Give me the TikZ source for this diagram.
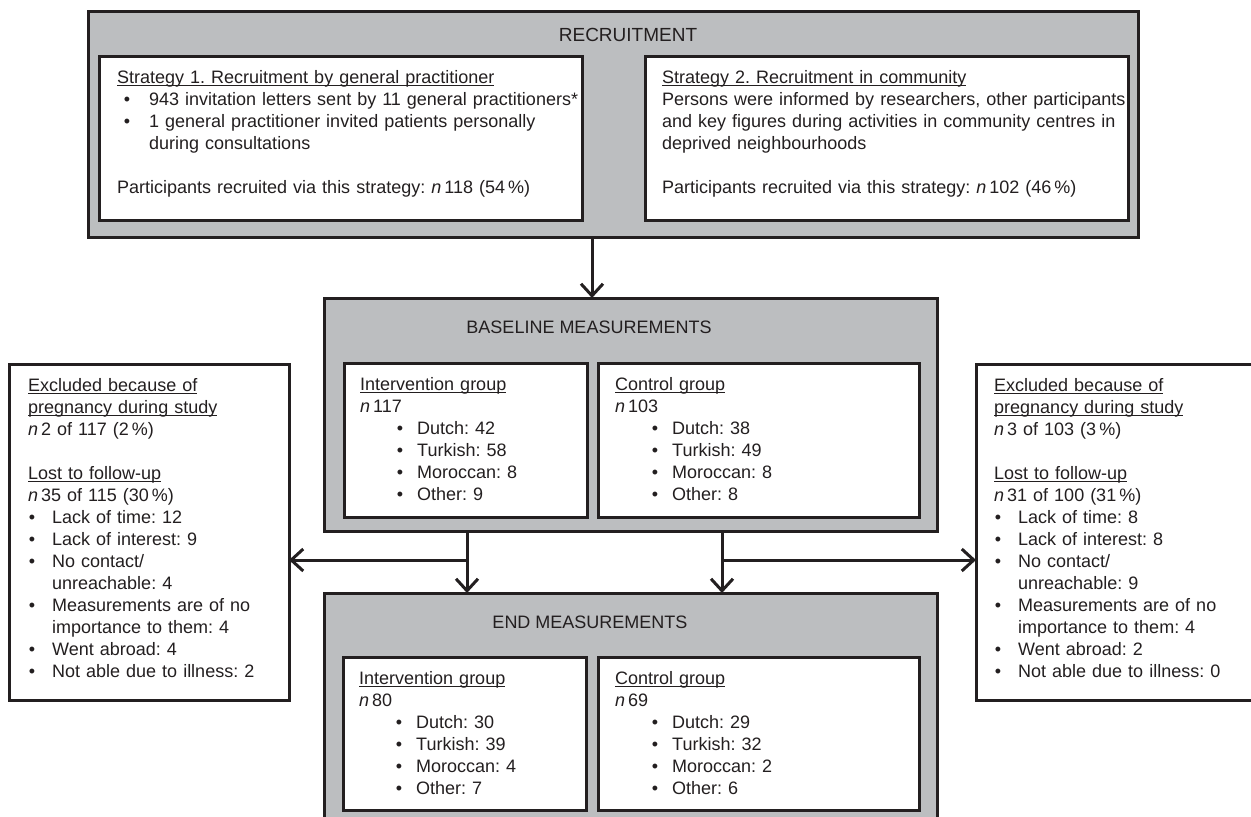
\documentclass[tikz,border=0pt]{standalone}
\usepackage{fontspec}
\setmainfont{Liberation Sans}
\usetikzlibrary{arrows.meta,positioning}
\definecolor{panelgray}{RGB}{188,190,192}
\definecolor{ink}{RGB}{35,31,32}
\setlength{\parindent}{0pt}
\frenchspacing
\newlength\ulwd
\newcommand\ulin[1]{\leavevmode\settowidth{\ulwd}{#1}\rlap{\rule[-3pt]{\ulwd}{1.5pt}}#1}
\newenvironment{blist}[2]{\begin{list}{\textbullet}{%
  \setlength{\leftmargin}{#1}\setlength{\labelsep}{#2}%
  \setlength{\labelwidth}{6.5pt}\setlength{\itemindent}{0pt}%
  \setlength{\itemsep}{0pt}\setlength{\parsep}{0pt}%
  \setlength{\topsep}{0pt}\setlength{\partopsep}{0pt}}}{\end{list}}
\tikzset{>={Straight Barb[length=12pt,width=22pt]}}
\tikzstyle{panel}=[draw=ink, line width=3pt, fill=panelgray,
   anchor=north west, inner sep=0pt, outer sep=0pt]
\tikzstyle{card}=[draw=ink, line width=3pt, fill=white,
   anchor=north west, inner sep=0pt, outer sep=0pt]
\tikzstyle{body}=[anchor=north west, inner sep=0pt, align=left, text=ink]
\tikzstyle{heading}=[anchor=base, inner sep=0pt, text=ink]
\tikzstyle{flow}=[->, draw=ink, line width=3pt]

\begin{document}
\begin{tikzpicture}[x=1pt, y=-1pt, font=\fontsize{18}{22}\selectfont]
  \useasboundingbox (0,0) rectangle (1251,817);
  % recruitment
  \node[panel, minimum width=1050, minimum height=226] (rec) at (88,11) {};
  \node[card, minimum width=483, minimum height=164,
        below right=45pt and 11pt of rec.north west] (strat1) {};
  \node[card, minimum width=483, minimum height=164,
        below right=45pt and 557pt of rec.north west] (strat2) {};
  \node[heading, font=\fontsize{19}{22}\selectfont] (rectitle) at (628,41) {RECRUITMENT};
  \node[body, text width=520] (strat1txt) at ([shift={(18,11.6)}]strat1.north west) {%
    \strut\ulin{Strategy 1. Recruitment by general practitioner}
    \begin{blist}{32pt}{19pt}
      \item 943 invitation letters sent by 11 general practitioners*
      \item 1 general practitioner invited patients personally\newline during consultations
    \end{blist}
    \par\vspace{22pt}
    Participants recruited via this strategy: \textit{n}\,118 (54\,\%)};
  \node[body, text width=520] (strat2txt) at ([shift={(17,11.6)}]strat2.north west) {%
    \strut\ulin{Strategy 2. Recruitment in community}\\
    Persons were informed by researchers, other participants\\
    and key figures during activities in community centres in\\
    deprived neighbourhoods\\[22pt]
    Participants recruited via this strategy: \textit{n}\,102 (46\,\%)};
  % baseline
  \node[panel, minimum width=613, minimum height=233] (base) at (324,298) {};
  \node[card, minimum width=243, minimum height=154,
        below right=65pt and 20pt of base.north west] (baseint) {};
  \node[card, minimum width=321, minimum height=154,
        below right=65pt and 274pt of base.north west] (basectl) {};
  \node[heading] (basetitle) at (589,333) {BASELINE MEASUREMENTS};
  \node[body, text width=300] (baseinttxt) at ([shift={(16,11.6)}]baseint.north west) {%
    \strut\ulin{Intervention group}\\
    \textit{n}\,117
    \begin{blist}{57pt}{14pt}
      \item Dutch: 42
      \item Turkish: 58
      \item Moroccan: 8
      \item Other: 9
    \end{blist}};
  \node[body, text width=300] (basectltxt) at ([shift={(17,11.6)}]basectl.north west) {%
    \strut\ulin{Control group}\\
    \textit{n}\,103
    \begin{blist}{57pt}{14pt}
      \item Dutch: 38
      \item Turkish: 49
      \item Moroccan: 8
      \item Other: 8
    \end{blist}};
  % end
  \node[panel, minimum width=613, minimum height=240] (endm) at (324,593) {};
  \node[card, minimum width=243, minimum height=153,
        below right=64pt and 19pt of endm.north west] (endint) {};
  \node[card, minimum width=321, minimum height=153,
        below right=64pt and 274pt of endm.north west] (endctl) {};
  \node[heading] (endtitle) at (590,628) {END MEASUREMENTS};
  \node[body, text width=300] (endinttxt) at ([shift={(16,11.6)}]endint.north west) {%
    \strut\ulin{Intervention group}\\
    \textit{n}\,80
    \begin{blist}{57pt}{14pt}
      \item Dutch: 30
      \item Turkish: 39
      \item Moroccan: 4
      \item Other: 7
    \end{blist}};
  \node[body, text width=300] (endctltxt) at ([shift={(17,11.6)}]endctl.north west) {%
    \strut\ulin{Control group}\\
    \textit{n}\,69
    \begin{blist}{57pt}{14pt}
      \item Dutch: 29
      \item Turkish: 32
      \item Moroccan: 2
      \item Other: 6
    \end{blist}};
  % drop-outs
  \node[card, minimum width=280, minimum height=336] (exclint) at (9,364) {};
  \node[card, minimum width=280, minimum height=336] (exclctl) at (976,364) {};
  \node[body, text width=300] (exclinttxt) at ([shift={(19,11.6)}]exclint.north west) {%
    \strut\ulin{Excluded because of}\\
    \ulin{pregnancy during study}\\
    \textit{n}\,2 of 117 (2\,\%)\\[22pt]
    \ulin{Lost to follow-up}\\
    \textit{n}\,35 of 115 (30\,\%)
    \begin{blist}{24pt}{17pt}
      \item Lack of time: 12
      \item Lack of interest: 9
      \item No contact/\newline unreachable: 4
      \item Measurements are of no\newline importance to them: 4
      \item Went abroad: 4
      \item Not able due to illness: 2
    \end{blist}};
  \node[body, text width=300] (exclctltxt) at ([shift={(18,11.6)}]exclctl.north west) {%
    \strut\ulin{Excluded because of}\\
    \ulin{pregnancy during study}\\
    \textit{n}\,3 of 103 (3\,\%)\\[22pt]
    \ulin{Lost to follow-up}\\
    \textit{n}\,31 of 100 (31\,\%)
    \begin{blist}{24pt}{17pt}
      \item Lack of time: 8
      \item Lack of interest: 8
      \item No contact/\newline unreachable: 9
      \item Measurements are of no\newline importance to them: 4
      \item Went abroad: 2
      \item Not able due to illness: 0
    \end{blist}};
  % arrows
  \coordinate (topx) at (592,0);
  \coordinate (forkl) at (467,560);
  \coordinate (forkr) at (722,560);
  \draw[flow] (rec.south -| topx) -- (base.north -| topx);
  \draw[flow] (base.south -| forkl) -- (endm.north -| forkl);
  \draw[flow] (base.south -| forkr) -- (endm.north -| forkr);
  \draw[flow] (forkl) -- (exclint.east |- forkl);
  \draw[flow] (forkr) -- (exclctl.west |- forkr);
\end{tikzpicture}
\end{document}
